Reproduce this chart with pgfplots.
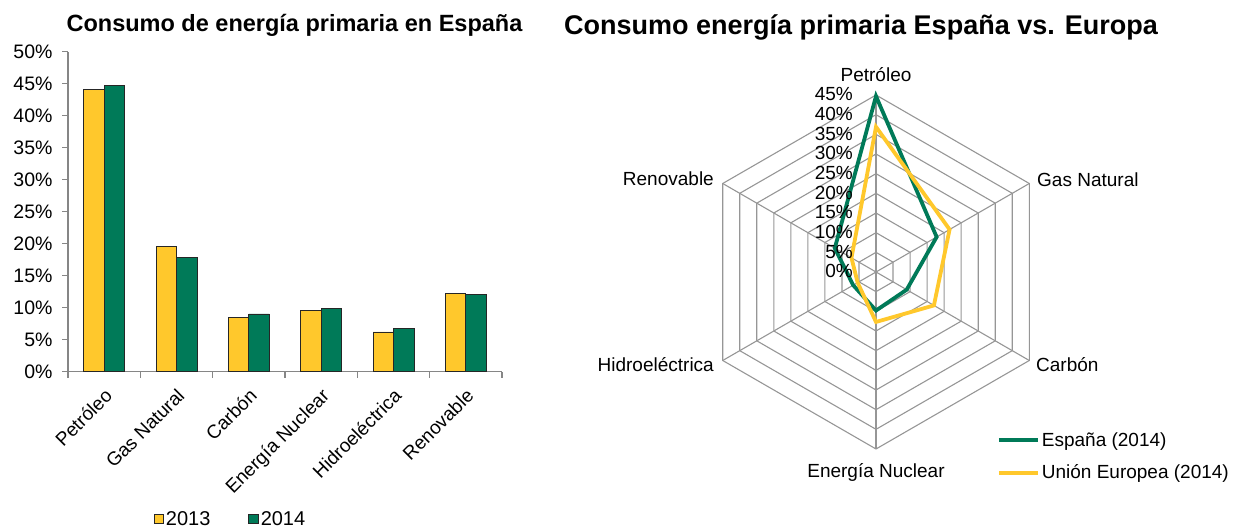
\documentclass[border=0pt]{standalone}
\usepackage{pgfplots}
\pgfplotsset{compat=1.18}
\usepackage{fontspec}
\setmainfont{Liberation Sans}

\definecolor{oro}{RGB}{255,200,44}
\definecolor{verde}{RGB}{0,122,88}
\definecolor{rejilla}{RGB}{150,150,150}
\definecolor{eje}{RGB}{134,134,134}

\pgfplotsset{
  cuadro/.style={legend image code/.code={%
      \draw[##1, line width=0.8pt] (0pt,-4.75pt) rectangle (9.5pt,4.75pt);}},
}

\begin{document}
\begin{tikzpicture}[x=1pt,y=1pt]
\path[use as bounding box] (0,0) rectangle (1233,529);

% ---- barras: consumo en Espana 2013/2014
\begin{axis}[
  at={(68pt,157.4pt)}, anchor=south west,
  scale only axis, width=434pt, height=320pt,
  xmin=-0.5, xmax=5.5, ymin=0, ymax=50,
  enlargelimits=false,
  ybar=0pt, bar width=20.5pt,
  axis x line*=bottom, axis y line*=left,
  axis line style={-, eje, line width=1.2pt},
  tick style={eje, line width=1.2pt},
  tick align=outside, major tick length=6pt,
  xtick={-0.5,0.5,...,5.5},
  x tick label as interval,
  xticklabels={Petróleo,Gas Natural,Carbón,Energía Nuclear,Hidroeléctrica,Renovable},
  xticklabel style={rotate=45, anchor=north east, xshift=-4pt, yshift=-3pt,
    font=\fontsize{19}{22}\selectfont},
  ytick={0,5,...,50},
  yticklabels={0\%,5\%,10\%,15\%,20\%,25\%,30\%,35\%,40\%,45\%,50\%},
  yticklabel style={font=\fontsize{19.5}{22}\selectfont, xshift=-6pt},
  legend style={at={(0.19,-0.46)}, anchor=west, draw=none, fill=none,
    font=\fontsize{20}{23}\selectfont, legend columns=2,
    /tikz/every even column/.append style={column sep=36pt}},
]
\addplot[fill=oro, draw=black!85, line width=0.8pt, cuadro] coordinates {
  (0,44.1) (1,19.5) (2,8.5) (3,9.6) (4,6.2) (5,12.2)};
\addlegendentry{2013}
\addplot[fill=verde, draw=black!85, line width=0.8pt, cuadro] coordinates {
  (0,44.7) (1,17.8) (2,9.0) (3,9.8) (4,6.7) (5,12.1)};
\addlegendentry{2014}
\end{axis}
\node[anchor=base, font=\bfseries\fontsize{23.5}{28}\selectfont] at (294.5,497.3)
  {Consumo de energía primaria en España};

% ---- radar: Espana vs. Europa
\begin{axis}[
  at={(876pt,257pt)}, anchor=center,
  scale only axis, width=354pt, height=354pt,
  xmin=-45, xmax=45, ymin=-45, ymax=45,
  hide axis, clip=false, data cs=polar,
  legend style={at={(0.833,0.058)}, anchor=north west, draw=none, fill=none,
    font=\fontsize{19}{22}\selectfont, row sep=13pt, cells={anchor=west}},
  legend image code/.code={\draw[#1] (0pt,0pt) -- (39pt,0pt);},
]
\pgfplotsinvokeforeach{5,10,...,45}{
  \addplot[rejilla, line width=1.1pt, forget plot] coordinates {
    (90,#1) (30,#1) (-30,#1) (-90,#1) (-150,#1) (150,#1) (90,#1)};
}
\pgfplotsinvokeforeach{90,30,-30,-90,-150,150}{
  \addplot[rejilla, line width=1.1pt, forget plot] coordinates {(#1,0) (#1,45)};
}
\addplot[verde, line width=3.8pt] coordinates {
  (90,44.7) (30,17.8) (-30,9.0) (-90,9.8) (-150,6.7) (150,12.1) (90,44.7) (30,17.8)};
\addlegendentry{España (2014)}
\addplot[oro, line width=3.8pt] coordinates {
  (90,36.9) (30,21.6) (-30,17.0) (-90,12.7) (-150,5.4) (150,7.2) (90,36.9) (30,21.6)};
\addlegendentry{Unión Europea (2014)}
\end{axis}

% etiquetas del radar
\foreach \v in {0,5,...,45} {
  \node[anchor=base east, inner sep=0pt, font=\fontsize{19}{22}\selectfont]
    at (853,{257+\v*177/45-6}) {\v\%};
}
\begin{scope}[font=\fontsize{19}{22}\selectfont, inner sep=0pt]
\node[anchor=base] at (876,447.3) {Petróleo};
\node[anchor=base west] at (1037,342.3) {Gas Natural};
\node[anchor=base west] at (1036,157.3) {Carbón};
\node[anchor=base] at (876,51) {Energía Nuclear};
\node[anchor=base east] at (714,157.3) {Hidroeléctrica};
\node[anchor=base east] at (714,343) {Renovable};
\end{scope}
\node[anchor=base, font=\bfseries\fontsize{27}{31}\selectfont] at (861,494)
  {Consumo energía primaria España vs. Europa};
\end{tikzpicture}
\end{document}
